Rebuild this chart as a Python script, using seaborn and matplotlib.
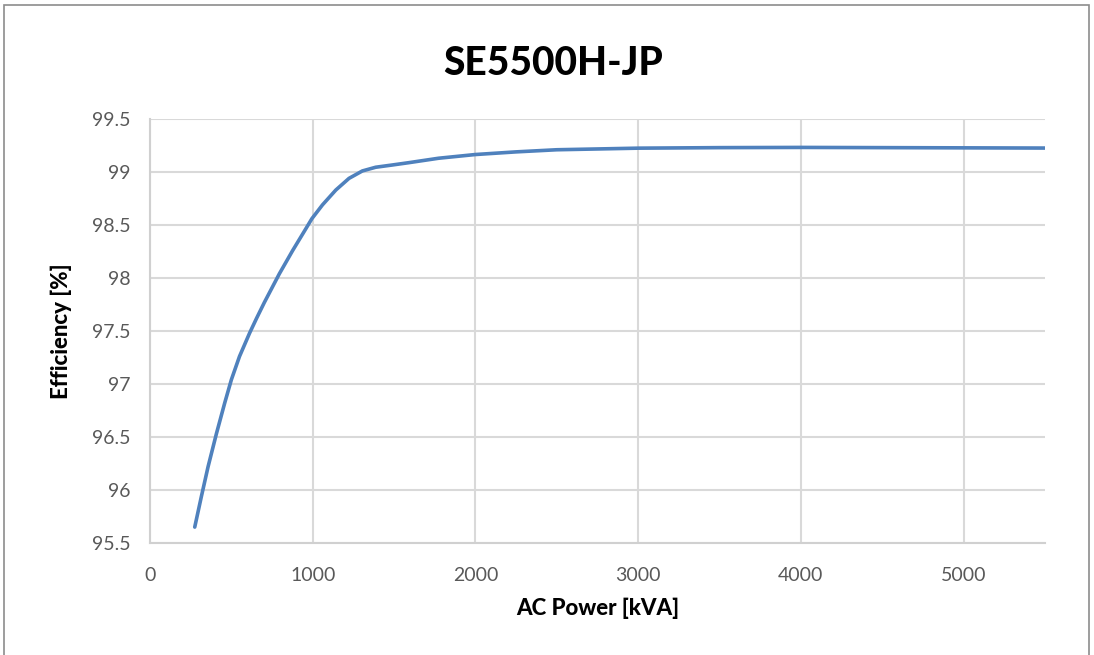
import numpy as np
import pandas as pd
import matplotlib.pyplot as plt
import seaborn as sns
from matplotlib.patches import Rectangle

# values
ac_power = [275, 316, 357, 408, 459, 500, 550, 612, 655, 703, 795, 877, 948,
            995, 1060, 1142, 1223, 1305, 1387, 1488, 1590, 1774, 2000, 2250,
            2500, 3000, 3500, 4000, 4500, 5000, 5500]
efficiency = [95.65, 95.94, 96.22, 96.53, 96.82, 97.04, 97.26, 97.48, 97.62,
              97.77, 98.04, 98.26, 98.44, 98.56, 98.69, 98.83, 98.94, 99.01,
              99.045, 99.066, 99.088, 99.13, 99.165, 99.19, 99.21, 99.225,
              99.23, 99.232, 99.23, 99.228, 99.226]
x_ticks = [0, 1000, 2000, 3000, 4000, 5000]
y_ticks = [95.5, 96, 96.5, 97, 97.5, 98, 98.5, 99, 99.5]
y_tick_labels = ['95.5', '96', '96.5', '97', '97.5', '98', '98.5', '99', '99.5']

sns.set_style('white')
plt.rcParams['font.family'] = ['Lato', 'DejaVu Sans']

df = pd.DataFrame({'power': ac_power, 'eff': efficiency})

fig = plt.figure(figsize=(10.94, 6.55), dpi=100)
ax = fig.add_axes([0.1371, 0.171, 0.9552 - 0.1371, 0.8183 - 0.171])

sns.lineplot(data=df, x='power', y='eff', ax=ax, color='#4f81bd',
             linewidth=2.6, solid_capstyle='round', solid_joinstyle='round')

ax.set_xlim(0, 5500)
ax.set_ylim(95.5, 99.5)
ax.set_xticks(x_ticks)
ax.set_yticks(y_ticks)
ax.set_yticklabels(y_tick_labels)
ax.tick_params(axis='both', length=0, labelsize=14, labelcolor='#595959')
ax.tick_params(axis='x', pad=17)
ax.tick_params(axis='y', pad=14)
ax.grid(True, color='#d9d9d9', linewidth=1.5)
ax.set_axisbelow(True)
for side in ['top', 'right']:
    ax.spines[side].set_visible(False)
for side in ['left', 'bottom']:
    ax.spines[side].set_color('#d0d0d0')
    ax.spines[side].set_linewidth(1.5)

ax.set_xlabel('AC Power [kVA]', fontsize=16, fontweight='black', color='black',
              labelpad=10)
ax.set_ylabel('Efficiency [%]', fontsize=16, fontweight='black', color='black',
              labelpad=14)
fig.text(0.5055, 0.903, 'SE5500H-JP', ha='center', va='center',
         fontsize=28, fontweight='black', color='black')

# chart border
fig.patches.append(Rectangle((4 / 1094, -0.1), 1085 / 1094, 1.1 - 5 / 655,
                             transform=fig.transFigure, fill=False,
                             edgecolor='#8c8c8c', linewidth=1.2))

fig.savefig('out.png', dpi=100)
